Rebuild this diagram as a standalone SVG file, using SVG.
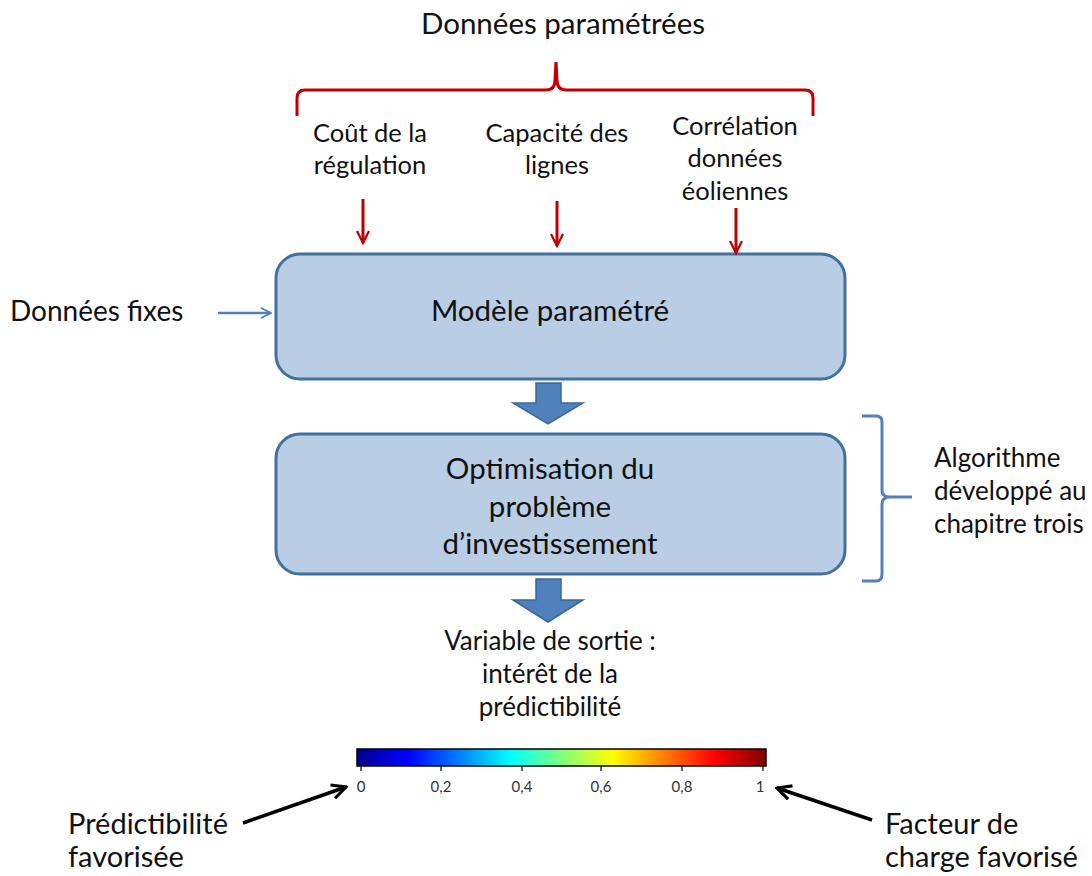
<svg xmlns="http://www.w3.org/2000/svg" width="1092" height="876" viewBox="0 0 1092 876">
<defs>
<style>
text{font-family:Lato,"Open Sans","Liberation Sans",sans-serif;fill:#111}
.c{text-anchor:middle}
.box{fill:#B9CDE5;stroke:#41719C;stroke-width:3}
.red{stroke:#C00000;stroke-width:3;fill:none}
.blk{fill:#4F81BD;stroke:#3A6796;stroke-width:1.5}
.tick{font-size:15px;text-anchor:middle;fill:#333}
</style>
<marker id="ar" viewBox="0 0 10 10" refX="9" refY="5" markerWidth="5" markerHeight="5" orient="auto" markerUnits="strokeWidth"><path d="M1,1 L9,5 L1,9" fill="none" stroke="#C00000" stroke-width="1.5"/></marker>
<marker id="ab" viewBox="0 0 10 10" refX="9" refY="5" markerWidth="5" markerHeight="5" orient="auto" markerUnits="strokeWidth"><path d="M1,1 L9,5 L1,9" fill="none" stroke="#4F81BD" stroke-width="1.5"/></marker>
<marker id="ak" viewBox="0 0 10 10" refX="9" refY="5" markerWidth="5" markerHeight="5" orient="auto" markerUnits="strokeWidth"><path d="M1,1 L9,5 L1,9" fill="none" stroke="#000" stroke-width="1.8"/></marker>
<linearGradient id="jet" x1="0" x2="1" y1="0" y2="0">
<stop offset="0" stop-color="#00008F"/>
<stop offset="0.125" stop-color="#0000FF"/>
<stop offset="0.375" stop-color="#00FFFF"/>
<stop offset="0.625" stop-color="#FFFF00"/>
<stop offset="0.875" stop-color="#FF0000"/>
<stop offset="1" stop-color="#800000"/>
</linearGradient>
</defs>
<rect width="1092" height="876" fill="#fff"/>

<g id="title"><text class="c" x="563" y="34" font-size="29.5">Données paramétrées</text></g>
<g id="red-brace"><path class="red" d="M297,116 L297,98 Q297,90 305,90 L546,90 Q555,90 555,80 L556,62 L557,80 Q557,90 566,90 L805,90 Q813,90 813,98 L813,116"/></g>

<g id="p1"><text class="c" x="370" y="142" font-size="25.5">Coût de la</text><text class="c" x="370" y="174" font-size="25.5">régulation</text></g>
<g id="p2"><text class="c" x="557" y="142" font-size="25.5">Capacité des</text><text class="c" x="557" y="174" font-size="25.5">lignes</text></g>
<g id="p3"><text class="c" x="735" y="135" font-size="25.5">Corrélation</text><text class="c" x="735" y="167" font-size="25.5">données</text><text class="c" x="735" y="200" font-size="25.5">éoliennes</text></g>

<g id="box1"><rect class="box" x="276" y="254" width="569" height="125" rx="24"/><text class="c" x="550" y="321" font-size="29.5">Modèle paramétré</text></g>
<g id="fixes"><text x="10" y="321" font-size="28">Données fixes</text></g>

<g id="box2"><rect class="box" x="276" y="434" width="569" height="140" rx="24"/>
<text class="c" x="550" y="479" font-size="29.5">Optimisation du</text>
<text class="c" x="550" y="517" font-size="29.5">problème</text>
<text class="c" x="550" y="554" font-size="29.5">d’investissement</text></g>

<g id="algo"><path d="M862,416 L876,416 Q882,416 882,422 L882,490 Q882,497 890,497 L912,497 M890,497 Q882,497 882,504 L882,574 Q882,581 876,581 L862,581" fill="none" stroke="#4F81BD" stroke-width="3"/>
<text x="934" y="467" font-size="26">Algorithme</text><text x="934" y="500" font-size="26">développé au</text><text x="934" y="533" font-size="26">chapitre trois</text></g>

<g id="output"><text class="c" x="550" y="650" font-size="26">Variable de sortie :</text><text class="c" x="550" y="683" font-size="26">intérêt de la</text><text class="c" x="550" y="716" font-size="26">prédictibilité</text></g>

<g id="colorbar"><rect x="357" y="749" width="409" height="17" fill="url(#jet)" stroke="#000" stroke-width="1.5"/>
<path d="M361,766 v5 M441,766 v5 M522,766 v5 M601,766 v5 M682,766 v5 M763,766 v5" stroke="#000" stroke-width="1.2"/>
<text class="tick" x="361" y="792">0</text><text class="tick" x="441" y="792">0,2</text><text class="tick" x="522" y="792">0,4</text><text class="tick" x="601" y="792">0,6</text><text class="tick" x="682" y="792">0,8</text><text class="tick" x="760" y="792">1</text></g>

<g id="left-label"><text x="68" y="834" font-size="29">Prédictibilité</text><text x="68" y="867" font-size="29">favorisée</text></g>
<g id="right-label"><text x="885" y="834" font-size="29">Facteur de</text><text x="885" y="867" font-size="29">charge favorisé</text></g>

<g id="connectors">
<line x1="363" y1="199" x2="363" y2="243" class="red" stroke-width="2.5" marker-end="url(#ar)"/>
<line x1="557" y1="201" x2="557" y2="246" class="red" stroke-width="2.5" marker-end="url(#ar)"/>
<line x1="736" y1="208" x2="736" y2="253" class="red" stroke-width="2.5" marker-end="url(#ar)"/>
<line x1="218" y1="313" x2="271" y2="313" stroke="#4F81BD" stroke-width="2.5" marker-end="url(#ab)"/>
<path class="blk" d="M536,383 H561 V403 H583 L548,424 L513,403 H536 Z"/>
<path class="blk" d="M536,579 H561 V600 H583 L548,622 L513,600 H536 Z"/>
<line x1="243" y1="823" x2="346" y2="787" stroke="#000" stroke-width="3.5" marker-end="url(#ak)"/>
<line x1="872" y1="820" x2="777" y2="788" stroke="#000" stroke-width="3.5" marker-end="url(#ak)"/>
</g>
</svg>
